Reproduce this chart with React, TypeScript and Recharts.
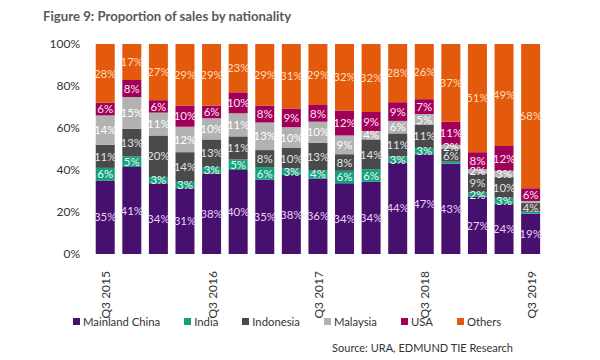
import React from "react";
import { Bar, BarChart, LabelList, XAxis, YAxis } from "recharts";

const quarters = [
  "Q3 2015", "Q4 2015", "Q1 2016", "Q2 2016", "Q3 2016", "Q4 2016", "Q1 2017", "Q2 2017",
  "Q3 2017", "Q4 2017", "Q1 2018", "Q2 2018", "Q3 2018", "Q4 2018", "Q1 2019", "Q2 2019", "Q3 2019",
];
const mainlandChina = [35, 41, 34, 31, 38, 40, 35, 38, 36, 34, 34, 44, 47, 43, 27, 24, 19];
const india = [6, 5, 3, 3, 3, 5, 6, 3, 4, 6, 6, 3, 3, 1, 2, 3, 1];
const indonesia = [11, 13, 20, 14, 13, 11, 8, 10, 13, 8, 14, 11, 11, 6, 9, 10, 4];
const malaysia = [14, 15, 11, 12, 10, 11, 13, 10, 10, 9, 4, 6, 5, 2, 2, 3, 1];
const usa = [6, 8, 6, 10, 6, 10, 8, 9, 8, 12, 9, 9, 7, 11, 8, 12, 6];
const others = [28, 17, 27, 29, 29, 23, 29, 31, 29, 32, 32, 28, 26, 37, 51, 49, 68];
const yTicks = [0, 0.2, 0.4, 0.6, 0.8, 1];

const series = [
  { key: "china", name: "Mainland China", values: mainlandChina, fill: "#470f6e", text: "#e6d2f5" },
  { key: "india", name: "India", values: india, fill: "#17a07e", text: "#e6fff5" },
  { key: "indonesia", name: "Indonesia", values: indonesia, fill: "#4a4a4c", text: "#e2e2e2" },
  { key: "malaysia", name: "Malaysia", values: malaysia, fill: "#b2b2b2", text: "#ffffff" },
  { key: "usa", name: "USA", values: usa, fill: "#a0005a", text: "#ffe0ef" },
  { key: "others", name: "Others", values: others, fill: "#e35a0c", text: "#ffdcb8" },
];

// rounded shares don't always add to 100, so each bar is scaled to fill the column
const data = quarters.map((q, i) => {
  const total = series.reduce((acc, s) => acc + s.values[i], 0);
  const row: Record<string, string | number> = { q };
  series.forEach((s) => { row[s.key] = s.values[i] / total; });
  return row;
});

const FONT = "Lato, 'Open Sans', sans-serif";

function QuarterTick(props: any) {
  const { x, y, payload } = props;
  return (
    <text
      x={0} y={0} transform={`translate(${x + 5},${y + 9}) rotate(-90)`}
      textAnchor="end" fontSize={12} fill="#333" fontFamily={FONT}
    >
      {payload.value}
    </text>
  );
}

export default function App() {
  return (
    <div style={{ position: "absolute", left: 0, top: 0, width: 600, height: 360, background: "#fff", fontFamily: FONT }}>
      <div style={{ position: "absolute", left: 43, top: 8, fontSize: 13.2, fontWeight: 700, color: "#595959" }}>
        Figure 9: Proportion of sales by nationality
      </div>
      <BarChart
        width={600} height={360} data={data}
        margin={{ top: 44, right: 56, bottom: 50, left: 0 }}
        barCategoryGap="14%"
      >
        <XAxis
          dataKey="q" interval={3} axisLine={false} tickLine={false}
          height={56} tick={<QuarterTick />}
        />
        <YAxis
          width={92} domain={[0, 1]} ticks={yTicks} axisLine={false} tickLine={false}
          allowDataOverflow
          tickSize={0} tickMargin={12} tickFormatter={(v) => `${Math.round(v * 100)}%`}
          tick={{ fill: "#333", fontSize: 12, fontFamily: FONT }}
        />
        {series.map((s) => (
          <Bar key={s.key} dataKey={s.key} name={s.name} stackId="a" fill={s.fill} isAnimationActive={false}>
            <LabelList
              dataKey={s.key}
              content={(p: any) => {
                const v = s.values[p.index];
                if (v < 2) return null;
                return (
                  <text
                    x={p.x + p.width / 2} y={p.y + p.height / 2} dy={4.2}
                    textAnchor="middle" fontSize={11.5} fill={s.text} fontFamily={FONT}
                  >
                    {`${v}%`}
                  </text>
                );
              }}
            />
          </Bar>
        ))}
      </BarChart>
      <div style={{ position: "absolute", left: 73, top: 315, display: "flex", gap: 24, fontSize: 11.3, color: "#333" }}>
        {series.map((s) => (
          <div key={s.key} style={{ display: "flex", alignItems: "center", gap: 3 }}>
            <span style={{ width: 7, height: 7, background: s.fill, display: "inline-block" }} />
            <span>{s.name}</span>
          </div>
        ))}
      </div>
      <div style={{ position: "absolute", right: 87, top: 341, fontSize: 11, color: "#333" }}>
        Source: URA, EDMUND TIE Research
      </div>
    </div>
  );
}
